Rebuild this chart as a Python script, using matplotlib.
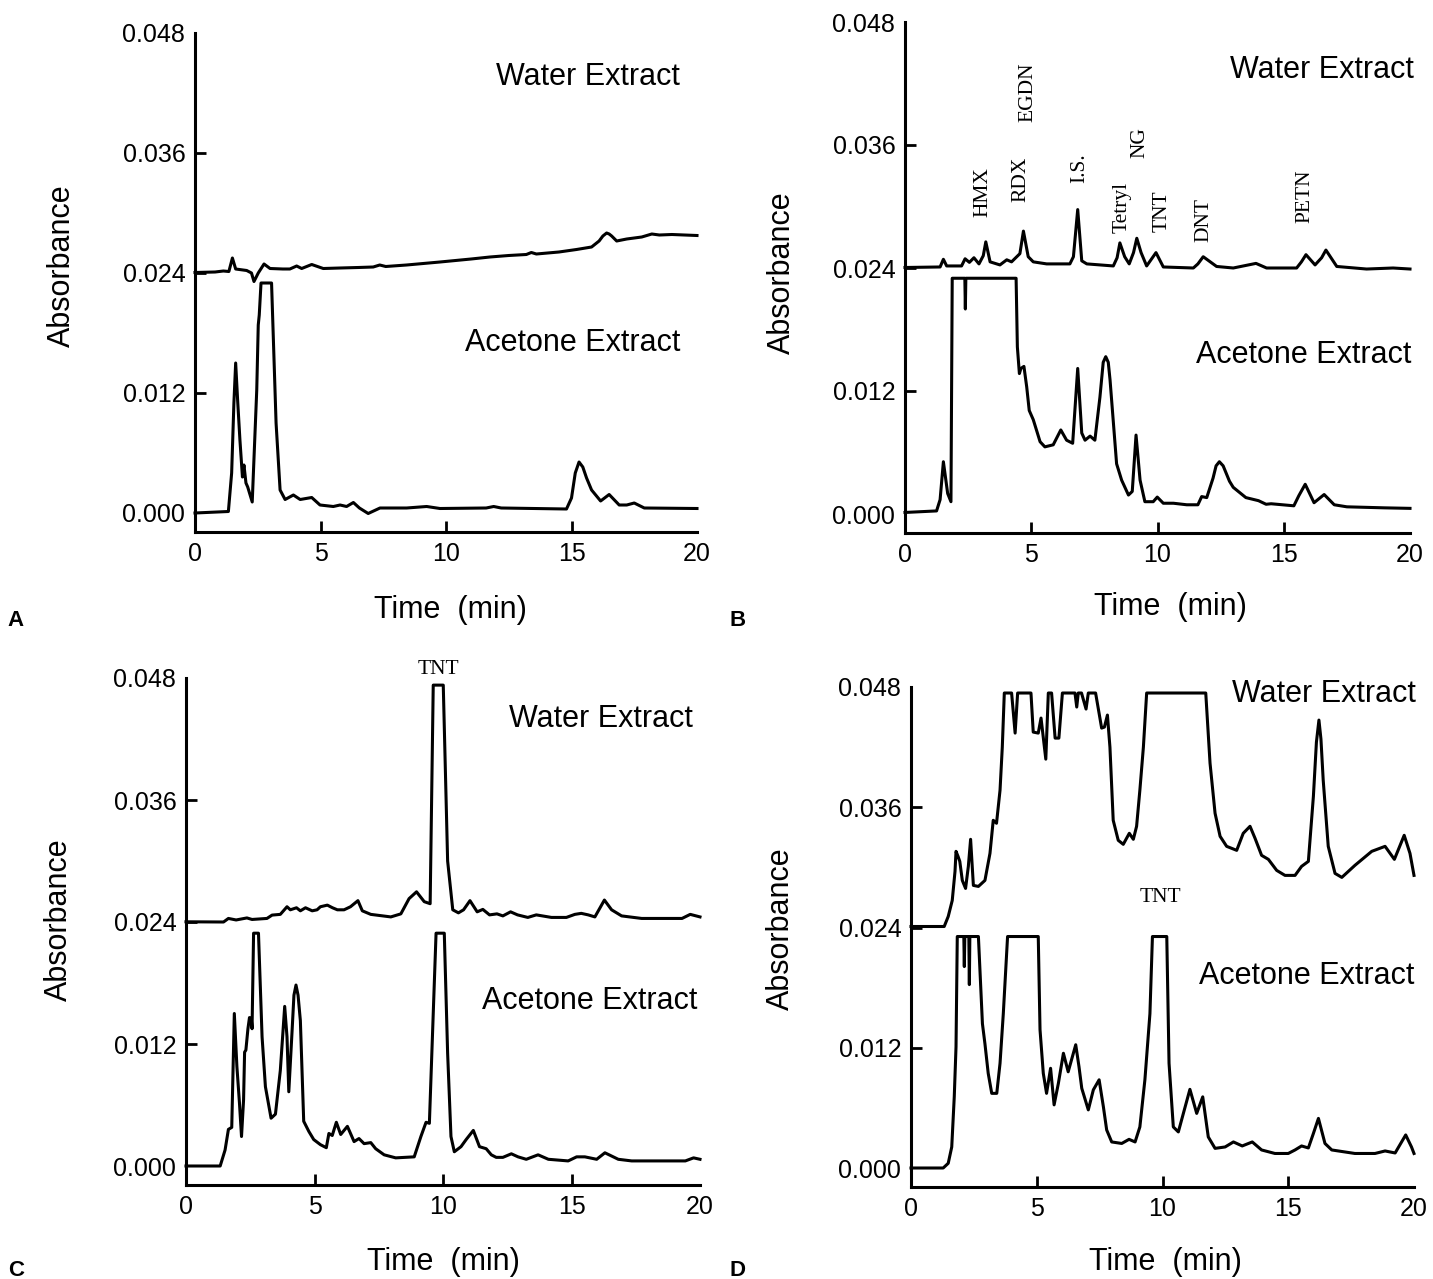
import matplotlib
matplotlib.use("Agg")
import matplotlib.pyplot as plt

W, H = 1433, 1279
SANS = ["Liberation Sans", "DejaVu Sans"]
SERIF = ["Liberation Serif", "DejaVu Serif"]

# ---------------- data (time in min, absorbance) ----------------
# Panel A
a_water_t = [0, 0.8, 1.13, 1.35, 1.49, 1.62, 2.06, 2.25, 2.35, 2.52, 2.75, 2.99, 3.5, 3.78, 4.05, 4.25,
             4.65, 5.11, 5.78, 6.5, 7.1, 7.36, 7.6, 8.43, 9.76, 11.0, 11.75, 12.5, 13.2, 13.4, 13.6,
             14.5, 15.2, 15.8, 16.1, 16.25, 16.4, 16.5, 16.6, 16.8, 17.2, 17.8, 18.2, 18.5, 19.0, 20.0]
a_water_v = [0.02405, 0.0241, 0.0242, 0.02415, 0.0255, 0.0244, 0.02425, 0.0240, 0.02315, 0.0240, 0.0249,
             0.02445, 0.0244, 0.0244, 0.0247, 0.02445, 0.02485, 0.02445, 0.0245, 0.02455, 0.0246, 0.0248,
             0.02465, 0.0248, 0.0251, 0.0254, 0.0256, 0.02575, 0.02585, 0.02605, 0.0259, 0.0261, 0.02635,
             0.0266, 0.0272, 0.0277, 0.0280, 0.0279, 0.0277, 0.0272, 0.0274, 0.0276, 0.0279, 0.0278,
             0.02785, 0.02775]
a_acet_t = [0, 1.33, 1.46, 1.55, 1.62, 1.70, 1.79, 1.89, 1.95, 2.03, 2.1, 2.28, 2.46, 2.52, 2.56, 2.63,
            3.05, 3.23, 3.39, 3.59, 3.92, 4.19, 4.65, 4.98, 5.51, 5.78, 6.04, 6.31, 6.55, 6.9, 7.37, 8.43,
            9.23, 9.76, 11.6, 11.9, 12.2, 14.8, 15.0, 15.15, 15.3, 15.45, 15.6, 15.8, 16.16, 16.5, 16.9,
            17.2, 17.5, 17.9, 20.0]
a_acet_v = [0.0, 0.00015, 0.0040, 0.0110, 0.0150, 0.0112, 0.0073, 0.0036, 0.0048, 0.0030, 0.0026,
            0.0011, 0.0123, 0.0188, 0.0198, 0.0230, 0.0230, 0.0090, 0.0023, 0.00135, 0.0018, 0.00135,
            0.00155, 0.0008, 0.00065, 0.0008, 0.00065, 0.00105, 0.0005, -0.00005, 0.0005, 0.0005,
            0.00065, 0.00045, 0.0005, 0.00065, 0.0005, 0.0004, 0.0015, 0.0040, 0.0051, 0.0046, 0.0035,
            0.0023, 0.0012, 0.00185, 0.0008, 0.0008, 0.0010, 0.0005, 0.00045]

# Panel B
b_water_t = [0, 1.39, 1.52, 1.65, 2.24, 2.38, 2.55, 2.73, 2.93, 3.1, 3.2, 3.37, 3.76, 4.03, 4.22, 4.55,
             4.69, 4.88, 5.08, 5.61, 6.53, 6.67, 6.84, 7.0, 7.2, 8.25, 8.4, 8.51, 8.7, 8.88, 9.05, 9.18,
             9.35, 9.57, 9.94, 10.23, 11.42, 11.6, 11.81, 12.34, 13.0, 13.9, 14.32, 15.51, 15.7, 15.88,
             16.24, 16.5, 16.67, 17.1, 18.28, 19.33, 20.0]
b_water_v = [0.02405, 0.0241, 0.02485, 0.0242, 0.0242, 0.0249, 0.02455, 0.0250, 0.0244, 0.0252, 0.02655,
             0.0246, 0.0243, 0.0248, 0.0246, 0.0254, 0.0276, 0.0251, 0.0246, 0.0244, 0.0244, 0.0251,
             0.0297, 0.0247, 0.0244, 0.0242, 0.0250, 0.02645, 0.0251, 0.0244, 0.0255, 0.0269, 0.0255,
             0.0242, 0.0255, 0.0241, 0.0240, 0.0244, 0.0251, 0.02415, 0.0240, 0.02445, 0.0240, 0.0240,
             0.0246, 0.0253, 0.0243, 0.0250, 0.02575, 0.02415, 0.0239, 0.0240, 0.0239]
b_acet_t = [0, 1.25, 1.39, 1.52, 1.69, 1.82, 1.87, 2.37, 2.39, 2.41, 4.4, 4.45, 4.53, 4.59, 4.71, 4.82,
            4.92, 5.08, 5.35, 5.54, 5.87, 6.17, 6.4, 6.64, 6.84, 7.0, 7.13, 7.33, 7.52, 7.72, 7.85, 7.95,
            8.05, 8.12, 8.38, 8.58, 8.85, 9.0, 9.15, 9.31, 9.5, 9.83, 9.99, 10.23, 10.63, 11.16, 11.6,
            11.75, 11.95, 12.2, 12.32, 12.45, 12.6, 12.85, 13.0, 13.5, 14.0, 14.3, 14.5, 15.4, 15.6,
            15.85, 16.2, 16.6, 17.0, 17.5, 19.0, 20.0]
b_acet_v = [0.00015, 0.0003, 0.0014, 0.0051, 0.0020, 0.0012, 0.0230, 0.0230, 0.0200, 0.0230, 0.0230,
            0.0163, 0.0137, 0.0142, 0.0144, 0.0124, 0.0101, 0.0092, 0.00705, 0.00655, 0.00675, 0.0082,
            0.0072, 0.0069, 0.0142, 0.0079, 0.0072, 0.0076, 0.0072, 0.0114, 0.0148, 0.01535, 0.0148,
            0.0131, 0.0049, 0.0033, 0.00185, 0.0022, 0.0077, 0.0033, 0.0012, 0.0012, 0.00165, 0.00105,
            0.00105, 0.0009, 0.0009, 0.0017, 0.0016, 0.0035, 0.0047, 0.0051, 0.0047, 0.0032, 0.0026,
            0.0016, 0.0013, 0.00095, 0.0010, 0.0008, 0.0018, 0.0029, 0.0011, 0.0019, 0.0009, 0.0007,
            0.0006, 0.00055]

# Panel C
c_water_t = [0, 1.46, 1.65, 1.95, 2.37, 2.57, 3.15, 3.35, 3.67, 3.93, 4.06, 4.3, 4.45, 4.65, 4.91, 5.1,
             5.23, 5.5, 5.7, 5.89, 6.15, 6.4, 6.69, 6.86, 7.19, 7.97, 8.36, 8.68, 8.97, 9.27, 9.5, 9.62,
             10.01, 10.18, 10.38, 10.6, 10.8, 11.05, 11.33, 11.55, 11.81, 12.1, 12.33, 12.63, 12.9, 13.3,
             13.63, 14.22, 14.8, 15.13, 15.38, 15.65, 15.91, 16.28, 16.56, 16.95, 17.73, 19.3, 19.62, 20.0]
c_water_v = [0.02402, 0.0240, 0.02435, 0.0242, 0.0244, 0.02425, 0.02435, 0.02468, 0.02475, 0.0255,
             0.0252, 0.0254, 0.0251, 0.0254, 0.0251, 0.0252, 0.0255, 0.02566, 0.0254, 0.0252, 0.0252,
             0.0255, 0.0261, 0.0251, 0.02475, 0.0245, 0.0248, 0.0263, 0.02697, 0.0260, 0.0258, 0.0473,
             0.0473, 0.0300, 0.0252, 0.0249, 0.0252, 0.0261, 0.0250, 0.02524, 0.0247, 0.0248, 0.0246,
             0.0250, 0.0247, 0.02445, 0.0247, 0.02445, 0.02445, 0.02475, 0.02485, 0.0247, 0.0245, 0.02616,
             0.0252, 0.0246, 0.02435, 0.02435, 0.02475, 0.0245]
c_acet_t = [0, 1.33, 1.52, 1.65, 1.78, 1.88, 1.98, 2.08, 2.16, 2.24, 2.28, 2.33, 2.41, 2.47, 2.54, 2.57,
            2.63, 2.82, 2.96, 3.09, 3.31, 3.48, 3.67, 3.84, 3.93, 4.0, 4.13, 4.2, 4.28, 4.36, 4.45, 4.58,
            4.78, 4.97, 5.23, 5.46, 5.56, 5.69, 5.85, 6.02, 6.28, 6.54, 6.73, 6.93, 7.19, 7.38, 7.71,
            8.16, 8.88, 9.14, 9.34, 9.47, 9.73, 10.05, 10.18, 10.31, 10.44, 10.7, 10.9, 11.18, 11.42,
            11.68, 11.88, 12.07, 12.33, 12.66, 12.92, 13.24, 13.7, 14.1, 14.87, 15.2, 15.52, 15.98, 16.3,
            16.82, 17.34, 19.43, 19.75, 20.0]
c_acet_v = [0.0, 0.0, 0.00157, 0.0036, 0.0038, 0.0150, 0.0098, 0.0062, 0.0029, 0.0065, 0.0112, 0.0114,
            0.0135, 0.0146, 0.0145, 0.0135, 0.0229, 0.0229, 0.0127, 0.0078, 0.0047, 0.0051, 0.0094,
            0.0157, 0.0127, 0.0073, 0.0134, 0.0168, 0.0178, 0.0168, 0.0143, 0.0044, 0.0034, 0.0026,
            0.0021, 0.0018, 0.0032, 0.0030, 0.0043, 0.0031, 0.0039, 0.0024, 0.0027, 0.0022, 0.0023,
            0.0017, 0.0011, 0.0008, 0.0009, 0.0029, 0.0043, 0.0042, 0.0229, 0.0229, 0.0111, 0.0029,
            0.0014, 0.0019, 0.0026, 0.0035, 0.0019, 0.0017, 0.0011, 0.00085, 0.00085, 0.0012, 0.0009,
            0.00066, 0.0011, 0.00066, 0.0005, 0.0009, 0.0009, 0.00066, 0.0013, 0.00066, 0.0005, 0.0005,
            0.0008, 0.00066]

# Panel D
d_water_t = [0, 1.32, 1.48, 1.64, 1.75, 1.79, 1.87, 1.94, 2.04, 2.17, 2.28, 2.37, 2.48, 2.68, 2.94, 3.14,
             3.27, 3.4, 3.54, 3.63, 3.71, 4.0, 4.14, 4.24, 4.77, 4.86, 5.06, 5.17, 5.36, 5.46, 5.59, 5.73,
             5.88, 6.02, 6.52, 6.59, 6.65, 6.78, 6.96, 7.05, 7.34, 7.58, 7.69, 7.81, 7.91, 8.04, 8.24, 8.44,
             8.68, 8.84, 8.97, 9.1, 9.24, 9.37, 11.72, 11.89, 12.09, 12.29, 12.55, 12.95, 13.21, 13.48,
             13.68, 13.94, 14.21, 14.54, 14.87, 15.27, 15.53, 15.8, 16.0, 16.12, 16.22, 16.3, 16.39, 16.59,
             16.86, 17.13, 17.65, 18.32, 18.85, 19.22, 19.61, 19.84, 20.0]
d_water_v = [0.0241, 0.0241, 0.0251, 0.0267, 0.0296, 0.0316, 0.0311, 0.0306, 0.0287, 0.0279, 0.0301,
             0.0328, 0.0282, 0.0281, 0.0287, 0.0314, 0.0347, 0.0344, 0.0377, 0.0420, 0.0474, 0.0474,
             0.0434, 0.0474, 0.0474, 0.0435, 0.0434, 0.0449, 0.0408, 0.0474, 0.0474, 0.0429, 0.0429,
             0.0474, 0.0474, 0.0460, 0.0474, 0.0474, 0.0458, 0.0474, 0.0474, 0.0439, 0.0440, 0.0452,
             0.0420, 0.0347, 0.0327, 0.0323, 0.0334, 0.0328, 0.0341, 0.0377, 0.0420, 0.0474, 0.0474,
             0.0404, 0.0354, 0.0331, 0.0321, 0.0317, 0.0334, 0.0341, 0.0329, 0.0312, 0.0308, 0.0297,
             0.0292, 0.0292, 0.0301, 0.0306, 0.0371, 0.0425, 0.0447, 0.0428, 0.0387, 0.0321, 0.0294,
             0.0290, 0.0302, 0.0316, 0.0321, 0.0308, 0.0332, 0.0314, 0.0292]
d_acet_t = [0, 1.28, 1.48, 1.62, 1.72, 1.79, 1.84, 2.1, 2.12, 2.14, 2.3, 2.32, 2.34, 2.68, 2.84, 2.94,
            3.07, 3.21, 3.41, 3.54, 3.67, 3.84, 5.06, 5.13, 5.26, 5.39, 5.55, 5.69, 5.86, 6.06, 6.25,
            6.55, 6.68, 6.79, 7.05, 7.25, 7.48, 7.65, 7.78, 7.98, 8.38, 8.67, 8.91, 9.1, 9.3, 9.5, 9.6,
            10.17, 10.26, 10.43, 10.63, 10.83, 11.09, 11.36, 11.6, 11.82, 12.09, 12.49, 12.82, 13.17,
            13.57, 13.94, 14.47, 15.0, 15.27, 15.53, 15.8, 16.0, 16.2, 16.46, 16.73, 17.65, 18.45, 18.85,
            19.25, 19.67, 19.9, 20.0]
d_acet_v = [0.0, 0.0, 0.00047, 0.0021, 0.0071, 0.0121, 0.0231, 0.0231, 0.0201, 0.0231, 0.0231, 0.0183,
            0.0231, 0.0231, 0.0144, 0.0124, 0.00945, 0.00745, 0.00745, 0.01045, 0.0154, 0.0231, 0.0231,
            0.0138, 0.00945, 0.00745, 0.00995, 0.0063, 0.00845, 0.01145, 0.0096, 0.0123, 0.0101, 0.00795,
            0.0058, 0.0078, 0.0088, 0.0061, 0.0038, 0.0026, 0.00245, 0.00286, 0.0026, 0.0041, 0.0088,
            0.0154, 0.0231, 0.0231, 0.01045, 0.0041, 0.0036, 0.00545, 0.00785, 0.00545, 0.0071, 0.0031,
            0.00196, 0.0021, 0.0026, 0.0022, 0.0026, 0.0018, 0.00145, 0.00145, 0.0018, 0.0022, 0.0020,
            0.00345, 0.00495, 0.00245, 0.0018, 0.00145, 0.00145, 0.0017, 0.0015, 0.0033, 0.0021, 0.00145]

y_ticks = [0.0, 0.012, 0.024, 0.036, 0.048]
y_ticklabels = ["0.000", "0.012", "0.024", "0.036", "0.048"]
x_ticks = [0, 5, 10, 15, 20]
x_ticklabels = ["0", "5", "10", "15", "20"]

b_peak_labels = ["HMX", "RDX", "EGDN", "I.S.", "Tetryl", "NG", "TNT", "DNT", "PETN"]

# ---------------- figure ----------------
fig = plt.figure(figsize=(W / 100, H / 100), dpi=100)
fig.patch.set_facecolor("white")

YBOT = -0.0019


def px(x, y):
    return x / W, 1 - y / H


def make_axes(x0, x20, y0, y48):
    ppu = (y0 - y48) / 0.048
    ybot = y0 - YBOT * ppu
    ax = fig.add_axes([x0 / W, 1 - ybot / H, (x20 - x0) / W, (ybot - y48) / H])
    ax.set_xlim(0, 20)
    ax.set_ylim(YBOT, 0.048)
    for s in ("top", "right"):
        ax.spines[s].set_visible(False)
    for s in ("left", "bottom"):
        ax.spines[s].set_linewidth(2.2)
    ax.set_xticks(x_ticks)
    ax.set_xticklabels(x_ticklabels, fontfamily=SANS, fontsize=18)
    ax.set_yticks(y_ticks)
    ax.set_yticklabels(y_ticklabels, fontfamily=SANS, fontsize=18)
    ax.tick_params(direction="in", length=8, width=2, pad=7)
    for ticks in (ax.xaxis.get_major_ticks(), ax.yaxis.get_major_ticks()):
        ticks[0].tick1line.set_visible(False)
        ticks[-1].tick1line.set_visible(False)
    ax.patch.set_alpha(0)
    return ax


def draw(ax, t, v):
    ax.plot(t, v, color="black", lw=2.2, solid_joinstyle="round", clip_on=False)


axA = make_axes(195, 697, 513, 33)
draw(axA, a_water_t, a_water_v)
draw(axA, a_acet_t, a_acet_v)

axB = make_axes(905, 1410, 514, 22)
draw(axB, b_water_t, b_water_v)
draw(axB, b_acet_t, b_acet_v)

axC = make_axes(186, 700, 1166, 678)
draw(axC, c_water_t, c_water_v)
draw(axC, c_acet_t, c_acet_v)

axD = make_axes(911, 1414, 1168, 687)
draw(axD, d_water_t, d_water_v)
draw(axD, d_acet_t, d_acet_v)

# ---------------- texts ----------------
def ftext(x, y, s, **kw):
    fig.text(*px(x, y), s, **kw)

lab = dict(fontfamily=SANS, fontsize=22)
for (x, y) in [(62, 266), (782, 273), (59, 920), (781, 929)]:
    ftext(x, y, "Absorbance", rotation=90, ha="center", va="center", **lab)
for (x, y) in [(450, 610), (1170, 607), (443, 1262), (1165, 1262)]:
    ftext(x, y, "Time  (min)", ha="center", va="center", **lab)

for (x, y) in [(680, 77), (1414, 70), (693, 719), (1416, 694)]:
    ftext(x, y, "Water Extract", ha="right", va="center", **lab)
for (x, y) in [(680, 343), (1411, 355), (697, 1001), (1414, 976)]:
    ftext(x, y, "Acetone Extract", ha="right", va="center", **lab)

for (x, y, s) in [(16, 621, "A"), (738, 621, "B"), (16, 1271, "C"), (738, 1271, "D")]:
    ftext(x, y, s, ha="center", va="center", fontfamily=SANS, fontsize=16, fontweight="bold")

# Panel B peak labels (rotated, serif)
b_label_px = [(983, 217), (1021, 202), (1028, 122), (1080, 183), (1122, 233),
              (1140, 158), (1162, 232), (1204, 242), (1305, 223)]
for s, (x, y) in zip(b_peak_labels, b_label_px):
    ftext(x, y, s, rotation=90, ha="center", va="bottom", fontfamily=SERIF, fontsize=15.5)

ftext(438, 670, "TNT", ha="center", va="center", fontfamily=SERIF, fontsize=15.5)
ftext(1160, 897, "TNT", ha="center", va="center", fontfamily=SERIF, fontsize=15.5)

fig.savefig("out.png", dpi=100, facecolor="white")
